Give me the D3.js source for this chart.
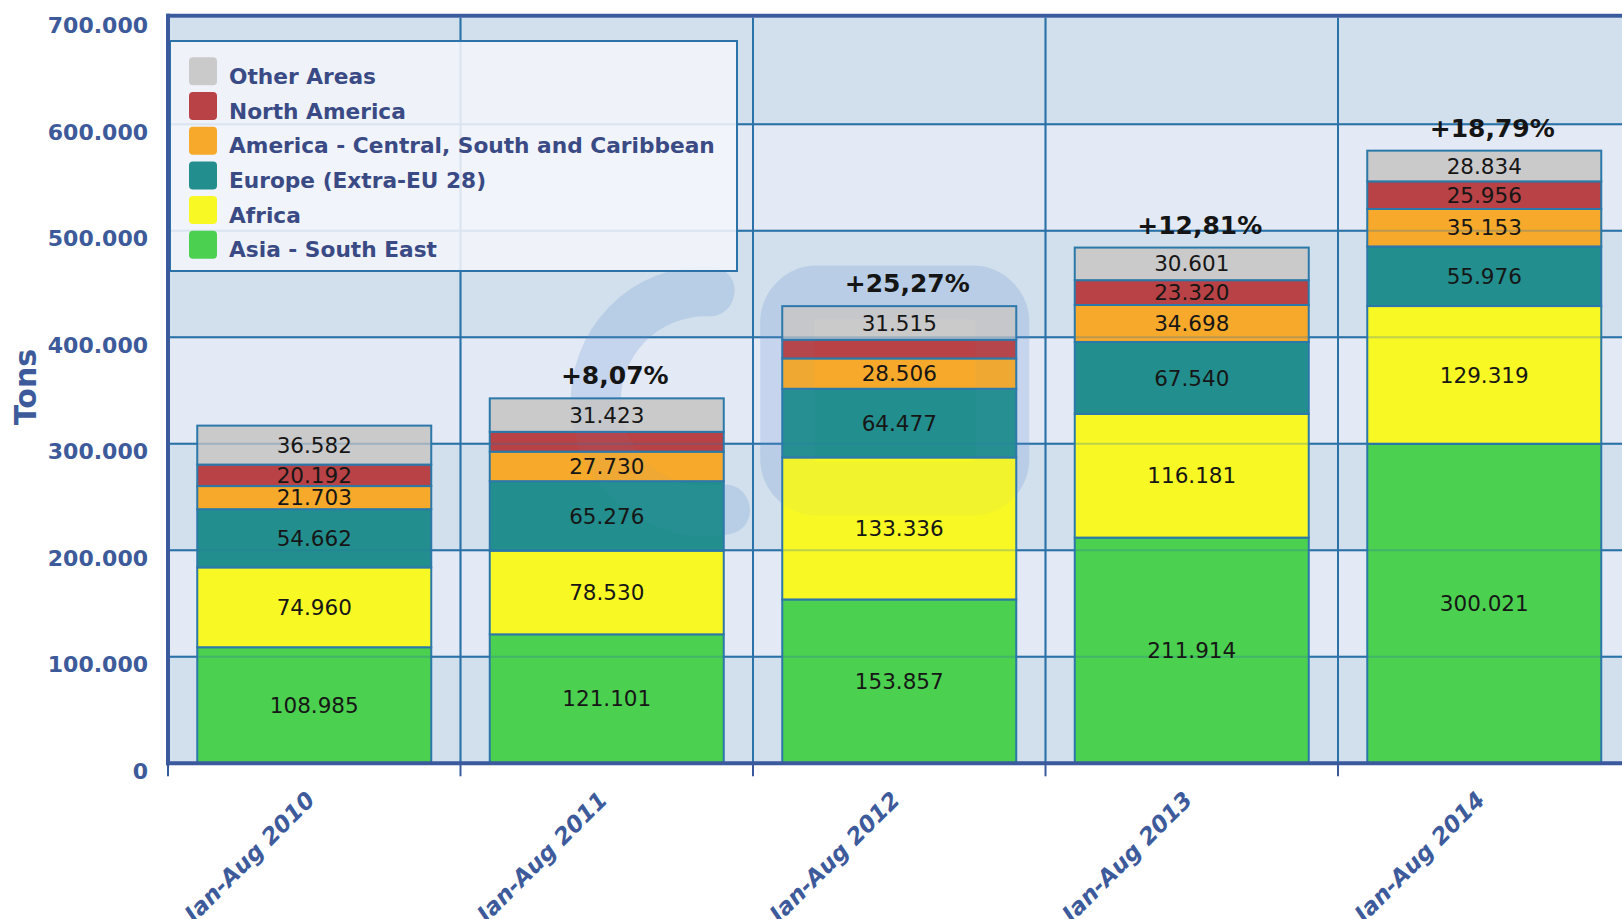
<!DOCTYPE html>
<html>
<head>
<meta charset="utf-8">
<script src="https://cdn.jsdelivr.net/npm/d3@7"></script>
<style>
  html, body { margin: 0; padding: 0; background: #ffffff; }
  svg { display: block; }
</style>
</head>
<body>
<svg id="chart" width="1622" height="919"></svg>
<script>
// ---------- DATA ----------
const categories = ["Jan-Aug 2010", "Jan-Aug 2011", "Jan-Aug 2012", "Jan-Aug 2013", "Jan-Aug 2014"];
const seriesNames = ["Asia - South East", "Africa", "Europe (Extra-EU 28)",
  "America - Central, South and Caribbean", "North America", "Other Areas"];
const asiaSouthEast = [108985, 121101, 153857, 211914, 300021];
const africa        = [74960, 78530, 133336, 116181, 129319];
const europe        = [54662, 65276, 64477, 67540, 55976];
const americaCSC    = [21703, 27730, 28506, 34698, 35153];
const northAmerica  = [20192, 18612, 17574, 23320, 25956];
const otherAreas    = [36582, 31423, 31515, 30601, 28834];
const growthLabels  = ["", "+8,07%", "+25,27%", "+12,81%", "+18,79%"];
const yTickValues   = [0, 100000, 200000, 300000, 400000, 500000, 600000, 700000];
const yAxisTitle    = "Tons";

// ---------- STYLE ----------
const seriesColors = ["#4bd04f", "#f8f824", "#228f8e", "#f6a92a", "#b84245", "#cbcacb"];
const axisBlue = "#3b5a9e";
const gridBlue = "#2a72a8";
const labelBlue = "#3d5a9a";

const svg = d3.select("#chart");
const W = 1622, H = 919;
const margin = { left: 168, top: 17.8, bottom: 763.3 };
const plotRight = 1630.5;

const x = d3.scaleBand().domain(categories).range([margin.left, plotRight])
  .paddingInner(0.2).paddingOuter(0.1);
const y = d3.scaleLinear().domain([0, 700000]).range([margin.bottom, margin.top]);

const fmt = d3.formatLocale({ decimal: ",", thousands: ".", grouping: [3], currency: ["", ""] }).format(",d");

const seriesArrays = [asiaSouthEast, africa, europe, americaCSC, northAmerica, otherAreas];
const table = categories.map((c, i) => {
  const row = { cat: c };
  seriesNames.forEach((s, j) => row[s] = seriesArrays[j][i]);
  return row;
});
const stacked = d3.stack().keys(seriesNames)(table);

svg.append("rect").attr("width", W).attr("height", H).attr("fill", "#ffffff");

// background bands
const bandEdges = yTickValues.slice(0, -1);
svg.append("g").selectAll("rect").data(bandEdges).join("rect")
  .attr("x", margin.left).attr("width", plotRight - margin.left)
  .attr("y", d => y(d + 100000)).attr("height", d => y(d) - y(d + 100000))
  .attr("fill", (d, i) => i % 2 === 0 ? "#d1e0ec" : "#e3eaf5");

// grid function
const boundaries = d3.range(categories.length + 1).map(i => margin.left + i * x.step());
function drawGrid(g, opacity) {
  g.selectAll("line.h").data(yTickValues.slice(1, -1)).join("line").attr("class", "h")
    .attr("x1", margin.left).attr("x2", plotRight)
    .attr("y1", d => y(d)).attr("y2", d => y(d))
    .attr("stroke", gridBlue).attr("stroke-width", 2).attr("opacity", opacity);
  g.selectAll("line.v").data(boundaries.slice(1)).join("line").attr("class", "v")
    .attr("x1", d => d).attr("x2", d => d)
    .attr("y1", margin.top).attr("y2", margin.bottom)
    .attr("stroke", gridBlue).attr("stroke-width", 2).attr("opacity", opacity);
}
drawGrid(svg.append("g"), 1);

// watermark (decoration, a faint logo behind / over the bars)
function drawWatermark(g) {
  const cx = x(categories[1]) + x.bandwidth() / 2 + 99, cy = y(340000);
  g.append("path")
    .attr("transform", `translate(${cx},${cy})`)
    .attr("d", d3.arc().innerRadius(85).outerRadius(135)
      .startAngle(-203 * Math.PI / 180).endAngle(15 * Math.PI / 180).cornerRadius(24)());
  const rx = x(categories[2]) + 5, ry = y(442000);
  g.append("rect").attr("x", rx).attr("y", ry)
    .attr("width", 215).attr("height", 196).attr("rx", 30)
    .attr("fill", "none").attr("stroke", "#6f98d8").attr("stroke-width", 54);
}
drawWatermark(svg.append("g").attr("fill", "#6f98d8").attr("opacity", 0.2));

// bars
const barG = svg.append("g");
stacked.forEach((layer, j) => {
  barG.append("g").selectAll("rect").data(layer).join("rect")
    .attr("x", d => x(d.data.cat)).attr("width", x.bandwidth())
    .attr("y", d => y(d[1])).attr("height", d => y(d[0]) - y(d[1]))
    .attr("fill", seriesColors[j])
    .attr("stroke", "#2b78a9").attr("stroke-width", 2);
});

// faint grid and watermark over bars
drawGrid(svg.append("g"), 0.28);
drawWatermark(svg.append("g").attr("fill", "#6f98d8").attr("opacity", 0.05));

// segment labels
stacked.forEach((layer, j) => {
  svg.append("g").selectAll("text").data(layer.filter(d => (y(d[0]) - y(d[1])) > 20.5)).join("text")
    .attr("x", d => x(d.data.cat) + x.bandwidth() / 2)
    .attr("y", d => (y(d[0]) + y(d[1])) / 2 + 7.6)
    .attr("text-anchor", "middle")
    .attr("font-family", "DejaVu Sans")
    .attr("font-size", 21.5)
    .attr("fill", "#161616")
    .text(d => fmt(d[1] - d[0]));
});

// growth labels
const topLayer = stacked[stacked.length - 1];
svg.append("g").selectAll("text").data(topLayer).join("text")
  .attr("x", d => x(d.data.cat) + x.bandwidth() / 2 + 8)
  .attr("y", d => y(d[1]) - 14)
  .attr("text-anchor", "middle")
  .attr("font-family", "DejaVu Sans").attr("font-weight", "bold")
  .attr("font-size", 25).attr("fill", "#151515")
  .text((d, i) => growthLabels[i]);

// legend
const lg = svg.append("g");
lg.append("rect").attr("x", 170).attr("y", 41).attr("width", 567).attr("height", 230)
  .attr("fill", "#f2f5fa").attr("fill-opacity", 0.88)
  .attr("stroke", gridBlue).attr("stroke-width", 2);
const legendOrder = seriesNames.map((s, j) => ({ name: s, color: seriesColors[j] })).reverse();
const li = lg.selectAll("g.item").data(legendOrder).join("g").attr("class", "item")
  .attr("transform", (d, i) => `translate(189,${57.3 + i * 34.7})`);
li.append("rect").attr("width", 28).attr("height", 28).attr("rx", 4)
  .attr("fill", d => d.color);
li.append("text").attr("x", 40).attr("y", 26.5)
  .attr("font-family", "DejaVu Sans").attr("font-weight", "bold")
  .attr("font-size", 21.7).attr("fill", "#3a4a85")
  .text(d => d.name);

// plot borders / axes
svg.append("line").attr("x1", margin.left - 2).attr("x2", plotRight)
  .attr("y1", margin.top - 2).attr("y2", margin.top - 2)
  .attr("stroke", axisBlue).attr("stroke-width", 4);
svg.append("line").attr("x1", margin.left).attr("x2", margin.left)
  .attr("y1", margin.top - 4).attr("y2", margin.bottom + 2)
  .attr("stroke", axisBlue).attr("stroke-width", 4);
svg.append("line").attr("x1", margin.left - 2).attr("x2", plotRight)
  .attr("y1", margin.bottom).attr("y2", margin.bottom)
  .attr("stroke", axisBlue).attr("stroke-width", 4);

// x ticks
svg.append("g").selectAll("line").data(boundaries).join("line")
  .attr("x1", d => d).attr("x2", d => d)
  .attr("y1", margin.bottom).attr("y2", margin.bottom + 13)
  .attr("stroke", axisBlue).attr("stroke-width", 2);

// y tick labels
svg.append("g").selectAll("text").data(yTickValues).join("text")
  .attr("x", 148).attr("y", d => y(d) + 15.5)
  .attr("text-anchor", "end")
  .attr("font-family", "DejaVu Sans").attr("font-weight", "bold")
  .attr("font-size", 22).attr("fill", labelBlue)
  .text(d => fmt(d));

// x labels
svg.append("g").selectAll("text").data(categories).join("text")
  .attr("transform", d => `translate(${x(d) + x.bandwidth() / 2 + 2},${margin.bottom + 38}) rotate(-45)`)
  .attr("text-anchor", "end")
  .attr("font-family", "DejaVu Sans").attr("font-weight", "bold").attr("font-style", "italic")
  .attr("font-size", 23).attr("fill", labelBlue)
  .text(d => d);

// y title
svg.append("text").attr("transform", `translate(36,387) rotate(-90)`)
  .attr("text-anchor", "middle")
  .attr("font-family", "DejaVu Sans").attr("font-weight", "bold")
  .attr("font-size", 30).attr("fill", labelBlue)
  .text(yAxisTitle);
</script>
</body>
</html>
